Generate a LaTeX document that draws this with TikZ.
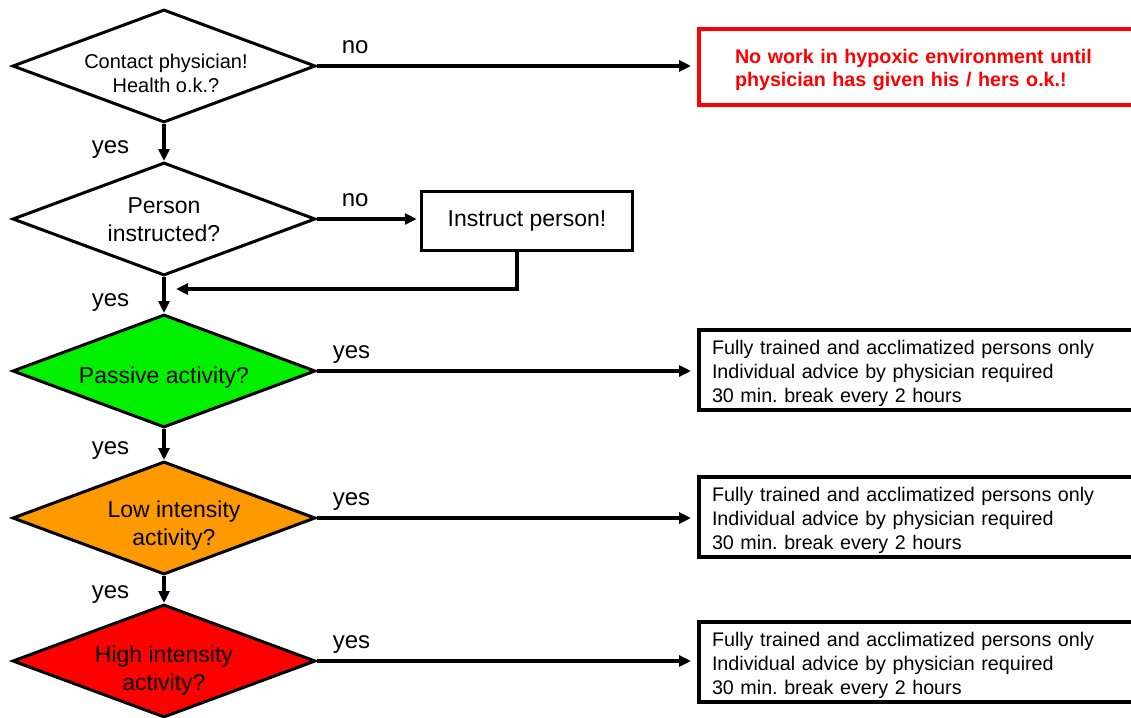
\documentclass[tikz,border=0pt]{standalone}
\usepackage{fontspec}
\setmainfont{Liberation Sans}
\frenchspacing
\usetikzlibrary{shapes.geometric,arrows.meta}
\definecolor{passivegreen}{RGB}{0,240,0}
\definecolor{loworange}{RGB}{255,153,0}
\definecolor{highred}{RGB}{255,0,0}
\tikzset{
  decision/.style = {shape=diamond, draw, line width=3pt, aspect=2.68,
                     inner sep=0pt, minimum width=303pt, minimum height=113pt},
  question/.style = {align=center, inner sep=0pt, font=\fontsize{23}{28}\selectfont},
  taskbox/.style  = {shape=rectangle, draw, line width=3.5pt,
                     minimum width=211pt, minimum height=59pt,
                     font=\fontsize{23}{28}\selectfont},
  rulebox/.style  = {shape=rectangle, draw, line width=4pt, anchor=west,
                     align=left, text width=430pt, inner xsep=13pt,
                     minimum height=78pt, font=\fontsize{19.7}{24}\selectfont,
                     execute at begin node={\rule{0pt}{21pt}}},
  stopbox/.style  = {rulebox, draw=highred, text=highred, text width=404pt,
                     inner xsep=36pt, minimum height=76pt,
                     font=\fontsize{19.7}{23}\selectfont\bfseries},
  flow/.style     = {->, line width=3.5pt, shorten >=6pt},
  answer/.style   = {font=\fontsize{24}{28}\selectfont, inner sep=0pt},
  across/.style   = {answer, pos=0, anchor=base west, yshift=13pt},
  down/.style     = {answer, pos=0.7, anchor=east, xshift=-33pt}
}

\begin{document}
\begin{tikzpicture}[x=1pt, y=-1pt, >={Triangle[length=12pt,width=11pt]}]
 \clip (0,0) rectangle (1131,717);

 % decisions
 \node[decision, label={[question, font=\fontsize{20}{24}\selectfont, xshift=2pt, yshift=-7pt]center:{Contact physician!\\Health o.k.?}}] (health) at (164,66) {};
 \node[decision, label={[question, yshift=-1pt]center:{Person\\instructed?}}] (instructed) at (164,219) {};
 \node[decision, fill=passivegreen, label={[question, yshift=-7pt]center:{Passive activity?}}] (passive) at (164,371) {};
 \node[decision, fill=loworange, label={[question, xshift=10pt, yshift=-8pt]center:{Low intensity\\activity?}}] (low) at (164,518) {};
 \node[decision, fill=highred, label={[question, yshift=-10pt]center:{High intensity\\activity?}}] (high) at (164,661) {};

 % outcomes
 \node[stopbox] (nowork) at (697,67) {No work in hypoxic environment until\\physician has given his / hers o.k.!};
 \node[taskbox] (instruct) at (527,221) {Instruct person!};
 \node[rulebox] (passiverule) at (697,370) {Fully trained and acclimatized persons only\\Individual advice by physician required\\30 min. break every 2 hours};
 \node[rulebox] (lowrule) at (697,517) {Fully trained and acclimatized persons only\\Individual advice by physician required\\30 min. break every 2 hours};
 \node[rulebox] (highrule) at (697,662) {Fully trained and acclimatized persons only\\Individual advice by physician required\\30 min. break every 2 hours};
 \coordinate (merge) at (176,289);

 % connectors
 \draw[flow, shorten >=0pt] (health.south) -- node[down] {yes} (instructed.north);
 \draw[flow, shorten >=0pt] (instructed.south) -- node[down] {yes} (passive.north);
 \draw[flow, shorten >=0pt] (passive.south) -- node[down] {yes} (low.north);
 \draw[flow, shorten >=0pt] (low.south) -- node[down] {yes} (high.north);

 \draw[flow] (health.east) -- node[across, xshift=23pt] {no} (health.east -| nowork.west);
 \draw[flow, shorten >=3pt] (instructed.east) -- node[across, xshift=23pt] {no} (instructed.east -| instruct.west);
 \draw[flow, shorten >=0pt] ([xshift=-10pt]instruct.south) |- (merge);
 \draw[flow] (passive.east) -- node[across, xshift=14pt] {yes} (passive.east -| passiverule.west);
 \draw[flow] (low.east) -- node[across, xshift=14pt] {yes} (low.east -| lowrule.west);
 \draw[flow] (high.east) -- node[across, xshift=14pt] {yes} (high.east -| highrule.west);
\end{tikzpicture}
\end{document}
